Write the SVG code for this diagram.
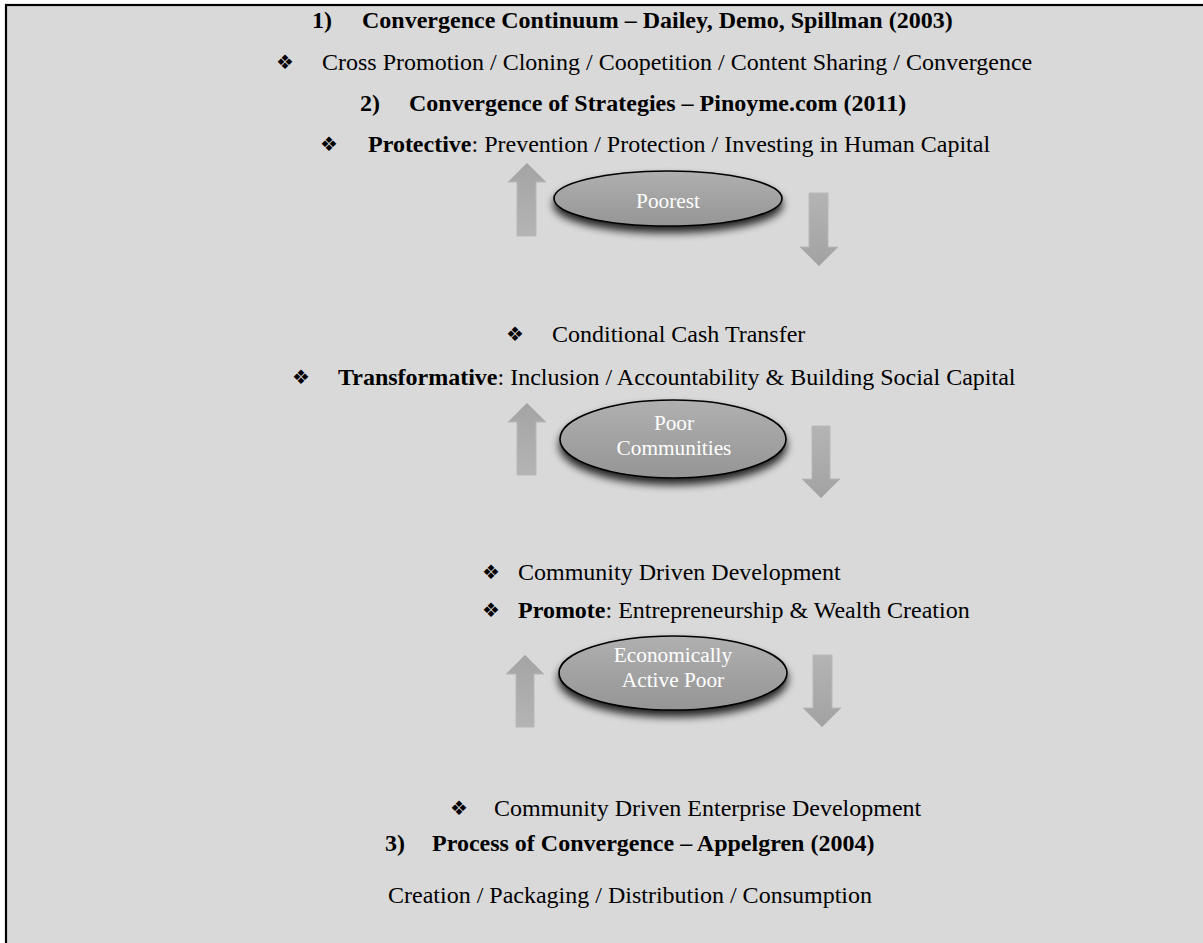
<svg xmlns="http://www.w3.org/2000/svg" width="1203" height="943" viewBox="0 0 1203 943">
<defs>
<linearGradient id="eg" x1="0" y1="0" x2="0" y2="1">
<stop offset="0" stop-color="#b0b0b0"/>
<stop offset="1" stop-color="#959595"/>
</linearGradient>
<linearGradient id="upg" x1="0" y1="0" x2="0" y2="1">
<stop offset="0" stop-color="#a4a4a4"/>
<stop offset="1" stop-color="#b4b4b4"/>
</linearGradient>
<linearGradient id="dng" x1="0" y1="0" x2="0" y2="1">
<stop offset="0" stop-color="#b4b4b4"/>
<stop offset="1" stop-color="#a2a2a2"/>
</linearGradient>
<filter id="sh" x="-20%" y="-30%" width="140%" height="190%">
<feGaussianBlur in="SourceAlpha" stdDeviation="4"/>
<feOffset dy="6" result="b"/>
<feComponentTransfer><feFuncA type="linear" slope="0.85"/></feComponentTransfer>
<feMerge><feMergeNode/><feMergeNode in="SourceGraphic"/></feMerge>
</filter>
</defs>
<style>
.t{font-family:"Liberation Serif","Times New Roman",serif;font-size:24px;fill:#000}
.b{font-weight:bold}
.bu{font-family:"DejaVu Sans",sans-serif;font-size:20px;fill:#000}
.nt{font-family:"Liberation Serif","Times New Roman",serif;font-size:21.3px;fill:#fff;text-anchor:middle}
.el{fill:url(#eg);stroke:#000;stroke-width:1.6;filter:url(#sh)}
.up{fill:url(#upg);stroke:#b8b8b8;stroke-width:1}
.dn{fill:url(#dng);stroke:#b8b8b8;stroke-width:1}
</style>
<rect x="0" y="0" width="1203" height="943" fill="#fff"/>
<rect x="6" y="5" width="1210" height="960" fill="#d9d9d9" stroke="#000" stroke-width="2.2"/>

<g id="texts">
<text class="t b" x="312" y="28">1)</text>
<text class="t b" x="362" y="28">Convergence Continuum – Dailey, Demo, Spillman (2003)</text>
<text class="bu" x="276" y="69">❖</text>
<text class="t" x="322" y="70">Cross Promotion / Cloning / Coopetition / Content Sharing / Convergence</text>
<text class="t b" x="360" y="111">2)</text>
<text class="t b" x="409" y="111">Convergence of Strategies – Pinoyme.com (2011)</text>
<text class="bu" x="320" y="151">❖</text>
<text class="t" x="368" y="152"><tspan class="b">Protective</tspan>: Prevention / Protection / Investing in Human Capital</text>
<text class="bu" x="506" y="341">❖</text>
<text class="t" x="552" y="342">Conditional Cash Transfer</text>
<text class="bu" x="292" y="384">❖</text>
<text class="t" x="338" y="385"><tspan class="b">Transformative</tspan>: Inclusion / Accountability &amp; Building Social Capital</text>
<text class="bu" x="482" y="579">❖</text>
<text class="t" x="518" y="580">Community Driven Development</text>
<text class="bu" x="482" y="617">❖</text>
<text class="t" x="518" y="618"><tspan class="b">Promote</tspan>: Entrepreneurship &amp; Wealth Creation</text>
<text class="bu" x="450" y="815">❖</text>
<text class="t" x="494" y="816">Community Driven Enterprise Development</text>
<text class="t b" x="385" y="851">3)</text>
<text class="t b" x="432" y="851">Process of Convergence – Appelgren (2004)</text>
<text class="t" x="388" y="903">Creation / Packaging / Distribution / Consumption</text>
</g>

<g id="connectors">
<path class="up" d="M527,163 L546,182 L536,182 L536,236 L517,236 L517,182 L508,182 Z"/>
<path class="dn" d="M809,193 L828,193 L828,247 L838,247 L819,266 L800,247 L809,247 Z"/>
<path class="up" d="M527,403 L546,422 L536,422 L536,475 L517,475 L517,422 L508,422 Z"/>
<path class="dn" d="M812,426 L830,426 L830,479 L840,479 L821,498 L802,479 L812,479 Z"/>
<path class="up" d="M525,655 L544,674 L534,674 L534,727 L516,727 L516,674 L506,674 Z"/>
<path class="dn" d="M813,655 L832,655 L832,708 L841,708 L822,727 L803,708 L813,708 Z"/>
</g>

<g id="node-poorest">
<ellipse class="el" cx="668" cy="198.5" rx="114" ry="27.5"/>
<text class="nt" x="668" y="208">Poorest</text>
</g>
<g id="node-poor-communities">
<ellipse class="el" cx="673" cy="439" rx="113" ry="39"/>
<text class="nt" x="674" y="430">Poor</text>
<text class="nt" x="674" y="455">Communities</text>
</g>
<g id="node-economically-active-poor">
<ellipse class="el" cx="673" cy="673" rx="114" ry="37"/>
<text class="nt" x="673" y="662">Economically</text>
<text class="nt" x="673" y="687">Active Poor</text>
</g>
</svg>
